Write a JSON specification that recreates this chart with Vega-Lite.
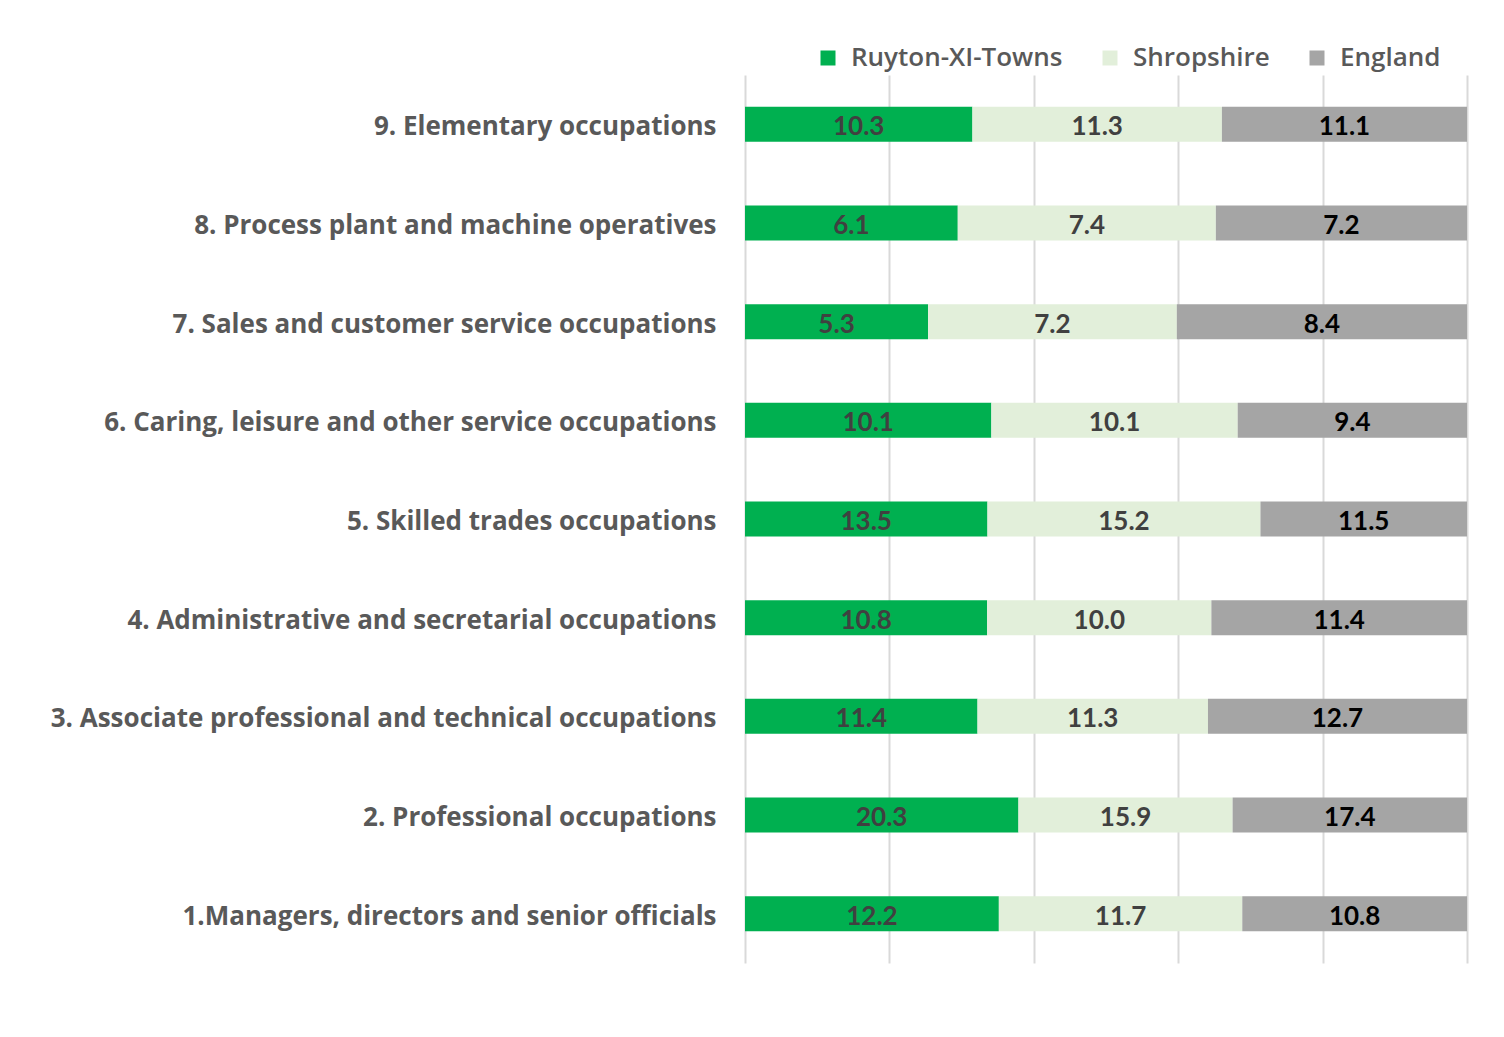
{
  "$schema": "https://vega.github.io/schema/vega-lite/v6.json",
  "autosize": {"type": "none"},
  "padding": {"left": 745, "top": 75, "right": 37, "bottom": 74},
  "width": 722,
  "height": 888,
  "background": "#ffffff",
  "config": {
    "view": {"stroke": null},
    "font": "Open Sans"
  },
  "data": {
    "values": [
      {"occ": "9. Elementary occupations", "area": "Ruyton-XI-Towns", "value": 10.3},
      {"occ": "9. Elementary occupations", "area": "Shropshire", "value": 11.3},
      {"occ": "9. Elementary occupations", "area": "England", "value": 11.1},
      {"occ": "8. Process plant and machine operatives", "area": "Ruyton-XI-Towns", "value": 6.1},
      {"occ": "8. Process plant and machine operatives", "area": "Shropshire", "value": 7.4},
      {"occ": "8. Process plant and machine operatives", "area": "England", "value": 7.2},
      {"occ": "7. Sales and customer service occupations", "area": "Ruyton-XI-Towns", "value": 5.3},
      {"occ": "7. Sales and customer service occupations", "area": "Shropshire", "value": 7.2},
      {"occ": "7. Sales and customer service occupations", "area": "England", "value": 8.4},
      {"occ": "6. Caring, leisure and other service occupations", "area": "Ruyton-XI-Towns", "value": 10.1},
      {"occ": "6. Caring, leisure and other service occupations", "area": "Shropshire", "value": 10.1},
      {"occ": "6. Caring, leisure and other service occupations", "area": "England", "value": 9.4},
      {"occ": "5. Skilled trades occupations", "area": "Ruyton-XI-Towns", "value": 13.5},
      {"occ": "5. Skilled trades occupations", "area": "Shropshire", "value": 15.2},
      {"occ": "5. Skilled trades occupations", "area": "England", "value": 11.5},
      {"occ": "4. Administrative and secretarial occupations", "area": "Ruyton-XI-Towns", "value": 10.8},
      {"occ": "4. Administrative and secretarial occupations", "area": "Shropshire", "value": 10.0},
      {"occ": "4. Administrative and secretarial occupations", "area": "England", "value": 11.4},
      {"occ": "3. Associate professional and technical occupations", "area": "Ruyton-XI-Towns", "value": 11.4},
      {"occ": "3. Associate professional and technical occupations", "area": "Shropshire", "value": 11.3},
      {"occ": "3. Associate professional and technical occupations", "area": "England", "value": 12.7},
      {"occ": "2. Professional occupations", "area": "Ruyton-XI-Towns", "value": 20.3},
      {"occ": "2. Professional occupations", "area": "Shropshire", "value": 15.9},
      {"occ": "2. Professional occupations", "area": "England", "value": 17.4},
      {"occ": "1.Managers, directors and senior officials", "area": "Ruyton-XI-Towns", "value": 12.2},
      {"occ": "1.Managers, directors and senior officials", "area": "Shropshire", "value": 11.7},
      {"occ": "1.Managers, directors and senior officials", "area": "England", "value": 10.8}
    ]
  },
  "transform": [
    {"calculate": "indexof(['Ruyton-XI-Towns','Shropshire','England'], datum.area)", "as": "ord"},
    {"stack": "value", "groupby": ["occ"], "sort": [{"field": "ord", "order": "ascending"}], "offset": "normalize", "as": ["x0", "x1"]},
    {"calculate": "(datum.x0 + datum.x1) / 2", "as": "xm"}
  ],
  "encoding": {
    "y": {
      "field": "occ",
      "type": "nominal",
      "sort": [
        "9. Elementary occupations",
        "8. Process plant and machine operatives",
        "7. Sales and customer service occupations",
        "6. Caring, leisure and other service occupations",
        "5. Skilled trades occupations",
        "4. Administrative and secretarial occupations",
        "3. Associate professional and technical occupations",
        "2. Professional occupations",
        "1.Managers, directors and senior officials"
      ],
      "scale": {"paddingInner": 0.645, "paddingOuter": 0.3225},
      "axis": {
        "title": null,
        "domain": false,
        "ticks": false,
        "labelPadding": 29,
        "labelOffset": 3,
        "labelFontSize": 26,
        "labelFontWeight": "bold",
        "labelColor": "#595959",
        "labelFont": "Open Sans",
        "labelLimit": 800
      }
    }
  },
  "layer": [
    {
      "mark": {"type": "bar"},
      "encoding": {
        "x": {
          "field": "x0",
          "type": "quantitative",
          "scale": {"domain": [0, 1], "nice": false},
          "axis": {
            "title": null,
            "values": [0, 0.2, 0.4, 0.6, 0.8, 1],
            "labels": false,
            "ticks": false,
            "domain": false,
            "grid": true,
            "gridColor": "#d9d9d9",
            "gridWidth": 2
          }
        },
        "x2": {"field": "x1"},
        "color": {
          "field": "area",
          "type": "nominal",
          "scale": {
            "domain": ["Ruyton-XI-Towns", "Shropshire", "England"],
            "range": ["#00b050", "#e2efda", "#a5a5a5"]
          },
          "legend": {
            "title": null,
            "orient": "none",
            "direction": "horizontal",
            "legendX": 70,
            "legendY": -30,
            "symbolType": "square",
            "symbolSize": 225,
            "symbolStrokeWidth": 0,
            "labelFontSize": 26,
            "labelFontWeight": 600,
            "labelColor": "#595959",
            "labelFont": "Open Sans",
            "columnPadding": 34,
            "labelOffset": 10,
            "labelLimit": 400
          }
        }
      }
    },
    {
      "mark": {"type": "text", "fontSize": 26, "fontWeight": "bold", "font": "Lato", "baseline": "middle", "dy": 3},
      "encoding": {
        "x": {"field": "xm", "type": "quantitative"},
        "text": {"field": "value", "type": "quantitative", "format": ".1f"},
        "color": {
          "condition": {"test": "datum.area === 'England'", "value": "#000000"},
          "value": "#404040"
        }
      }
    }
  ]
}
